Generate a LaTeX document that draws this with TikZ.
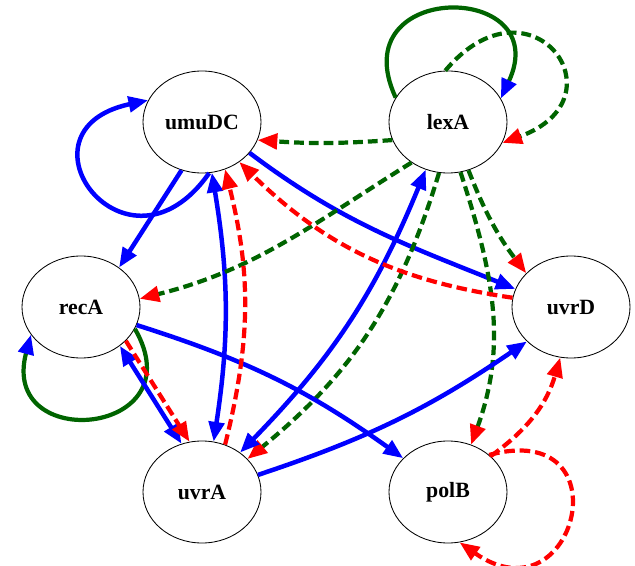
\documentclass[tikz,border=0pt]{standalone}
\usepackage{fontspec}
\setmainfont{Liberation Serif}
\usepackage{xcolor}
\usepackage{tikz}
\usetikzlibrary{arrows.meta, positioning, shapes.geometric}
\definecolor{net_blue}{HTML}{0000FF}
\definecolor{net_red}{HTML}{FF0000}
\definecolor{net_green}{HTML}{006400}

\begin{document}
\begin{tikzpicture}[
        on grid,
        gene/.style={ellipse, draw=black, line width=0.6pt, fill=white, minimum width=2.95cm, minimum height=2.55cm, inner sep=0pt, font=\fontsize{15.5}{18}\selectfont\bfseries},
        act_conn/.style={-{Triangle[length=14pt, width=11pt]}, line width=3.2pt, net_blue},
        dual_conn/.style={{Triangle[length=14pt, width=11pt]}-{Triangle[length=14pt, width=11pt]}, line width=3.2pt, net_blue},
        rep_conn/.style={-{Triangle[length=14pt, width=11pt]}, line width=3pt, net_red, dash pattern=on 7.5pt off 3.5pt},
        lex_conn/.style={-{Triangle[length=14pt, width=11pt, color=net_red]}, line width=3pt, net_green, dash pattern=on 7pt off 3.5pt},
        lex_self/.style={-{Triangle[length=14pt, width=11pt, color=net_blue]}, line width=3pt, net_green},
    ]
        \useasboundingbox (-5.05,3.05) rectangle (10.825,-11.1);

        % Genes
        \node[gene] (umuDC) {umuDC};
        \node[gene, right=6.15cm of umuDC] (lexA) {lexA};
        \node[gene, below left=4.625cm and 3.025cm of umuDC] (recA) {recA};
        \node[gene, below right=4.625cm and 3.075cm of lexA] (uvrD) {uvrD};
        \node[gene, below=9.25cm of umuDC] (uvrA) {uvrA};
        \node[gene, below=9.25cm of lexA] (polB) {polB};

        % umuDC
        \draw[act_conn] (umuDC.-82) to[out=235, in=192, distance=3.6cm] (umuDC.158);
        \draw[act_conn] (umuDC.247) -- (recA.46);
        \draw[dual_conn] (umuDC.281) to[bend left=9] (uvrA.77);
        \draw[act_conn] (umuDC.327) to[out=-37, in=158] (uvrD.162);

        % lexA
        \draw[lex_self] (lexA.155) to[out=115, in=65, distance=3.25cm] (lexA.24);
        \draw[lex_conn] (lexA.93) to[out=50, in=20, distance=3.3cm] (lexA.-21);
        \draw[lex_conn] (lexA.198) to[bend left=4] (umuDC.342);
        \draw[lex_conn] (lexA.228) to[out=212, in=14] (recA.8);
        \draw[lex_conn] (lexA.260) to[bend left=17] (uvrA.36);
        \draw[lex_conn] (lexA.284) to[out=-72, in=70] (polB.64);
        \draw[lex_conn] (lexA.-67) to[bend right=8] (uvrD.143);

        % recA
        \draw[lex_self] (recA.-22) to[out=-60, in=255, distance=3.1cm] (recA.209);
        \draw[dual_conn] (recA.-45) -- (uvrA.113);
        \draw[rep_conn] (recA.-37) -- (uvrA.104);
        \draw[act_conn] (recA.-18) to[bend left=9] (polB.143);

        % uvrA
        \draw[rep_conn] (uvrA.64) to[bend right=14] (umuDC.296);
        \draw[dual_conn] (uvrA.46) to[bend right=11] (lexA.245);
        \draw[act_conn] (uvrA.17) to[bend right=8] (uvrD.218);

        % uvrD and polB
        \draw[rep_conn] (uvrD.171) to[bend left=18] (umuDC.313);
        \draw[rep_conn] (polB.40) to[bend right=19] (uvrD.258);
        \draw[rep_conn] (polB.42) to[out=15, in=-35, distance=3.55cm] (polB.-77);
    \end{tikzpicture}
\end{document}
